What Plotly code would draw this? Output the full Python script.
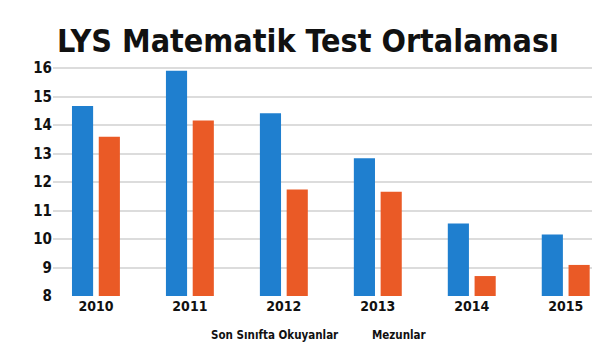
import plotly.graph_objects as go

years = ["2010", "2011", "2012", "2013", "2014", "2015"]
son_sinif = [14.67, 15.9, 14.41, 12.83, 10.54, 10.16]
mezunlar = [13.59, 14.16, 11.74, 11.66, 8.70, 9.09]
y_ticks = [8, 9, 10, 11, 12, 13, 14, 15, 16]
title_text = "LYS Matematik Test Ortalaması"
legend_names = ["Son Sınıfta Okuyanlar", "Mezunlar"]

FONT = "DejaVu Sans Condensed, Roboto, sans-serif"
BLUE = "#1f7fcf"
ORANGE = "#ea5a26"
L, R, T, B = 45, 0, 58, 70
W, H = 600, 358

x_idx = list(range(len(years)))

fig = go.Figure()
fig.add_trace(go.Bar(x=x_idx, y=[v - 8 for v in son_sinif], base=8,
                     width=0.225, offset=-0.255, marker_color=BLUE,
                     marker_line_width=0, name=legend_names[0]))
fig.add_trace(go.Bar(x=x_idx, y=[v - 8 for v in mezunlar], base=8,
                     width=0.225, offset=0.03, marker_color=ORANGE,
                     marker_line_width=0, name=legend_names[1]))

fig.update_layout(
    width=W, height=H,
    margin=dict(l=L, r=R, t=T, b=B),
    paper_bgcolor="white", plot_bgcolor="white",
    showlegend=False,
    barmode="overlay",
    font=dict(family=FONT, color="#111111"),
    title=dict(text="<b>" + title_text + "</b>", x=300 / W, xref="container",
               xanchor="center", y=1 - 33 / H, yanchor="middle",
               font=dict(family=FONT, size=32, color="#111111")),
)
fig.update_xaxes(range=[-0.457, 5.45], tickmode="array", tickvals=x_idx,
                 ticktext=["<b>" + y + "</b>" for y in years],
                 tickfont=dict(size=14, family=FONT, color="#111111"),
                 showgrid=False, zeroline=False, showline=False, ticks="",
                 automargin=False)
fig.update_yaxes(range=[8, 16.07], tickmode="array", tickvals=y_ticks,
                 ticktext=["<b>%d</b>" % t for t in y_ticks],
                 tickfont=dict(size=15, family=FONT, color="#111111"),
                 showgrid=True, gridcolor="#dcdcdc", gridwidth=2,
                 zeroline=False, showline=False, ticks="",
                 automargin=False)

pw, ph = W - L - R, H - T - B
for txt, px, py in [(legend_names[0], 267, 336), (legend_names[1], 391, 336)]:
    fig.add_annotation(x=(px - L) / pw, y=(H - B - py) / ph,
                       xref="paper", yref="paper",
                       text="<b>" + txt + "</b>", showarrow=False,
                       font=dict(size=11.5, family=FONT, color="#111111"))

fig.write_html("out.html")
